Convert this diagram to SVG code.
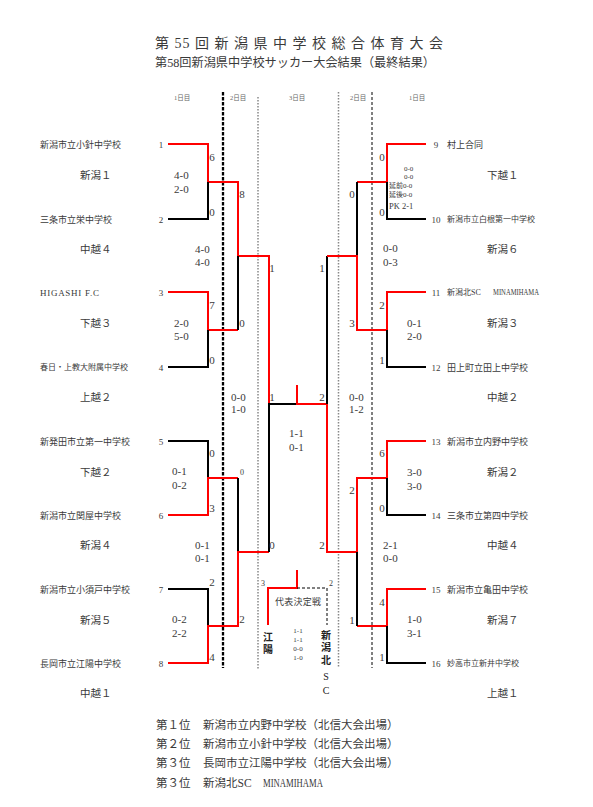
<svg xmlns="http://www.w3.org/2000/svg" width="593" height="807" viewBox="0 0 593 807">
<style>
text{font-family:"Liberation Serif","Noto Sans CJK JP",serif;fill:#3a3a3a}
.hd1{font-size:14px}
.hd2{font-size:12.5px}
.day{font-size:6.5px;fill:#666}
.tm{font-size:9px}
.tms{font-size:8px}
.tn{font-size:9px;text-anchor:middle}
.rg{font-size:10.5px}
.sc{font-size:11px}
.bs{font-size:11px;text-anchor:middle}
.bss{font-size:8px;text-anchor:middle}
.pk{font-size:7px}
.ft{font-size:11.5px}
.red{fill:none;stroke:#ff0000;stroke-width:2}
.blk{fill:none;stroke:#000;stroke-width:2}
.dsh{fill:none;stroke:#000;stroke-width:1;stroke-dasharray:3 2}
.vt{font-size:10px;font-weight:bold;text-anchor:middle;fill:#222}
</style>

<g id="header">
<text class="hd1" x="155" y="48" textLength="288" lengthAdjust="spacing">第 55 回 新 潟 県 中 学 校 総 合 体 育 大 会</text>
<text class="hd2" x="155" y="66.5" textLength="280" lengthAdjust="spacingAndGlyphs">第58回新潟県中学校サッカー大会結果（最終結果）</text>
</g>

<g id="days">
<text class="day" x="182" y="99.5" text-anchor="middle">1日目</text>
<text class="day" x="238" y="99.5" text-anchor="middle">2日目</text>
<text class="day" x="297" y="99.5" text-anchor="middle">3日目</text>
<text class="day" x="358" y="99.5" text-anchor="middle">2日目</text>
<text class="day" x="417" y="99.5" text-anchor="middle">1日目</text>
</g>

<g id="dividers">
<line x1="223" y1="92" x2="223" y2="668" stroke="#000" stroke-width="2.3" stroke-dasharray="3.5 1.5"/>
<line x1="258" y1="97" x2="258" y2="670" stroke="#888" stroke-width="1.5" stroke-dasharray="1.5 1.5"/>
<line x1="338.5" y1="92" x2="338.5" y2="667" stroke="#888" stroke-width="1.5" stroke-dasharray="1.5 1.5"/>
<line x1="372" y1="92" x2="372" y2="668" stroke="#000" stroke-width="1" stroke-dasharray="3 2"/>
</g>

<g id="connectors">
<path class="red" d="M168,144 H208 V182 H238 V256 H269 V404"/>
<path class="blk" d="M168,219 H208 V182"/>
<path class="red" d="M168,292 H208 V330 H238"/>
<path class="blk" d="M168,367 H208 V330"/>
<path class="blk" d="M238,330 V256"/>
<path class="blk" d="M168,441 H208 V478"/>
<path class="red" d="M168,515 H208 V478 H238"/>
<path class="blk" d="M238,478 V552"/>
<path class="blk" d="M168,589 H208 V626"/>
<path class="red" d="M168,663 H208 V626 H238 V552 H269"/>
<path class="blk" d="M269,552 V404 H297"/>
<path class="red" d="M297,385 V404 H327"/>
<path class="blk" d="M327,256 V404"/>
<path class="red" d="M327,404 V552 H357 V478 H387 V441 H426"/>
<path class="blk" d="M387,478 V515 H426"/>
<path class="red" d="M426,144 H387 V182 H357"/>
<path class="blk" d="M426,219 H387 V182"/>
<path class="blk" d="M357,182 V256"/>
<path class="red" d="M426,292 H387 V330 H357 V256 H327"/>
<path class="blk" d="M426,367 H387 V330"/>
<path class="red" d="M426,589 H387 V626 H357"/>
<path class="blk" d="M426,663 H387 V626"/>
<path class="blk" d="M357,626 V552"/>
<path class="red" d="M297,570 V588 H268 V625"/>
<path class="dsh" d="M297,588 H327 V625"/>
</g>

<g id="team1"><text class="tm" x="40" y="147.5">新潟市立小針中学校</text><text class="tn" x="161" y="147.5">1</text></g>
<g id="team2"><text class="tm" x="40" y="222.5">三条市立栄中学校</text><text class="tn" x="161" y="222.5">2</text></g>
<g id="team3"><text class="tm" x="40" y="295.5" textLength="59" lengthAdjust="spacing">HIGASHI F.C</text><text class="tn" x="161" y="295.5">3</text></g>
<g id="team4"><text class="tms" x="40" y="370">春日・上教大附属中学校</text><text class="tn" x="161" y="370.5">4</text></g>
<g id="team5"><text class="tm" x="40" y="444.5">新発田市立第一中学校</text><text class="tn" x="161" y="444.5">5</text></g>
<g id="team6"><text class="tm" x="40" y="518.5">新潟市立関屋中学校</text><text class="tn" x="161" y="518.5">6</text></g>
<g id="team7"><text class="tm" x="40" y="592.5">新潟市立小須戸中学校</text><text class="tn" x="161" y="592.5">7</text></g>
<g id="team8"><text class="tm" x="40" y="666.5">長岡市立江陽中学校</text><text class="tn" x="161" y="666.5">8</text></g>

<g id="team9"><text class="tn" x="436" y="147.5">9</text><text class="tm" x="447" y="147.5">村上合同</text></g>
<g id="team10"><text class="tn" x="436" y="222.5">10</text><text class="tms" x="447" y="222">新潟市立白根第一中学校</text></g>
<g id="team11"><text class="tn" x="436" y="295.5">11</text><text class="tms" x="447" y="295">新潟北SC<tspan x="493" textLength="46" lengthAdjust="spacingAndGlyphs">MINAMIHAMA</tspan></text></g>
<g id="team12"><text class="tn" x="436" y="370.5">12</text><text class="tm" x="447" y="370.5">田上町立田上中学校</text></g>
<g id="team13"><text class="tn" x="436" y="444.5">13</text><text class="tm" x="447" y="444.5">新潟市立内野中学校</text></g>
<g id="team14"><text class="tn" x="436" y="518.5">14</text><text class="tm" x="447" y="518.5">三条市立第四中学校</text></g>
<g id="team15"><text class="tn" x="436" y="592.5">15</text><text class="tm" x="447" y="592.5">新潟市立亀田中学校</text></g>
<g id="team16"><text class="tn" x="436" y="666.5">16</text><text class="tms" x="447" y="666">妙高市立新井中学校</text></g>

<g id="regions">
<text class="rg" x="80" y="179">新潟１</text>
<text class="rg" x="80" y="253">中越４</text>
<text class="rg" x="80" y="327">下越３</text>
<text class="rg" x="80" y="401">上越２</text>
<text class="rg" x="80" y="476">下越２</text>
<text class="rg" x="80" y="549">新潟４</text>
<text class="rg" x="80" y="624">新潟５</text>
<text class="rg" x="80" y="697">中越１</text>
<text class="rg" x="487" y="179">下越１</text>
<text class="rg" x="487" y="253">新潟６</text>
<text class="rg" x="487" y="327">新潟３</text>
<text class="rg" x="487" y="401">中越２</text>
<text class="rg" x="487" y="476">新潟２</text>
<text class="rg" x="487" y="549">中越４</text>
<text class="rg" x="487" y="624">新潟７</text>
<text class="rg" x="487" y="697">上越１</text>
</g>

<g id="halfscores">
<text class="sc" x="174" y="179">4-0</text><text class="sc" x="174" y="193">2-0</text>
<text class="sc" x="195" y="253">4-0</text><text class="sc" x="195" y="266">4-0</text>
<text class="sc" x="174" y="327">2-0</text><text class="sc" x="174" y="340">5-0</text>
<text class="sc" x="231" y="401">0-0</text><text class="sc" x="231" y="413">1-0</text>
<text class="sc" x="172" y="475">0-1</text><text class="sc" x="172" y="489">0-2</text>
<text class="sc" x="195" y="549">0-1</text><text class="sc" x="195" y="562">0-1</text>
<text class="sc" x="172" y="623">0-2</text><text class="sc" x="172" y="637">2-2</text>
<text class="sc" x="289" y="437">1-1</text><text class="sc" x="289" y="451">0-1</text>
<text class="pk" x="404" y="170.5">0-0</text>
<text class="pk" x="404" y="179">0-0</text>
<text class="pk" x="389" y="188">延前0-0</text>
<text class="pk" x="389" y="196.5">延後0-0</text>
<text class="pk" x="389" y="209" style="font-size:8.5px">PK 2-1</text>
<text class="sc" x="383" y="252">0-0</text><text class="sc" x="383" y="266">0-3</text>
<text class="sc" x="407" y="327">0-1</text><text class="sc" x="407" y="340">2-0</text>
<text class="sc" x="349" y="401">0-0</text><text class="sc" x="349" y="413">1-2</text>
<text class="sc" x="407" y="476">3-0</text><text class="sc" x="407" y="490">3-0</text>
<text class="sc" x="383" y="549">2-1</text><text class="sc" x="383" y="562">0-0</text>
<text class="sc" x="407" y="623">1-0</text><text class="sc" x="407" y="637">3-1</text>
</g>

<g id="bracketscores">
<text class="bs" x="212" y="161">6</text>
<text class="bs" x="212" y="216">0</text>
<text class="bs" x="242" y="198">8</text>
<text class="bs" x="212" y="309">7</text>
<text class="bs" x="212" y="364">0</text>
<text class="bs" x="242" y="327">0</text>
<text class="bs" x="272" y="272">1</text>
<text class="bs" x="272" y="401">1</text>
<text class="bs" x="212" y="457">0</text>
<text class="bs" x="212" y="512">3</text>
<text class="bss" x="242" y="475">0</text>
<text class="bs" x="272" y="549">0</text>
<text class="bs" x="212" y="586">2</text>
<text class="bs" x="212" y="661">4</text>
<text class="bs" x="242" y="623">2</text>
<text class="bs" x="382" y="161">0</text>
<text class="bs" x="382" y="216">0</text>
<text class="bs" x="352" y="198">0</text>
<text class="bs" x="322" y="272">1</text>
<text class="bs" x="382" y="309">2</text>
<text class="bs" x="352" y="327">3</text>
<text class="bs" x="382" y="364">1</text>
<text class="bs" x="322" y="401">2</text>
<text class="bs" x="382" y="457">6</text>
<text class="bs" x="352" y="494">2</text>
<text class="bs" x="382" y="512">0</text>
<text class="bs" x="322" y="549">2</text>
<text class="bs" x="382" y="606">4</text>
<text class="bs" x="352" y="624">1</text>
<text class="bs" x="382" y="661">1</text>
</g>

<g id="thirdplace">
<text class="bss" x="263" y="586">3</text>
<text class="bss" x="331" y="586">2</text>
<text x="275" y="605" style="font-size:9px" textLength="46">代表決定戦</text>
<text class="vt" x="268" y="641">江</text>
<text class="vt" x="268" y="653">陽</text>
<text class="vt" x="326" y="639">新</text>
<text class="vt" x="326" y="651">潟</text>
<text class="vt" x="326" y="664">北</text>
<text class="vt" x="326" y="680" style="font-weight:normal">S</text>
<text class="vt" x="326" y="694" style="font-weight:normal">C</text>
<text class="pk" x="298" y="632.5" text-anchor="middle">1-1</text>
<text class="pk" x="298" y="641.5" text-anchor="middle">1-1</text>
<text class="pk" x="298" y="650.5" text-anchor="middle">0-0</text>
<text class="pk" x="298" y="659.5" text-anchor="middle">1-0</text>
</g>

<g id="results">
<text class="ft" x="156" y="729">第１位</text><text class="ft" x="203" y="729">新潟市立内野中学校（北信大会出場）</text>
<text class="ft" x="156" y="748">第２位</text><text class="ft" x="203" y="748">新潟市立小針中学校（北信大会出場）</text>
<text class="ft" x="156" y="767">第３位</text><text class="ft" x="203" y="767">長岡市立江陽中学校（北信大会出場）</text>
<text class="ft" x="156" y="787">第３位</text><text class="ft" x="203" y="787">新潟北SC<tspan x="263" textLength="60" lengthAdjust="spacingAndGlyphs">MINAMIHAMA</tspan></text>
</g>
</svg>
